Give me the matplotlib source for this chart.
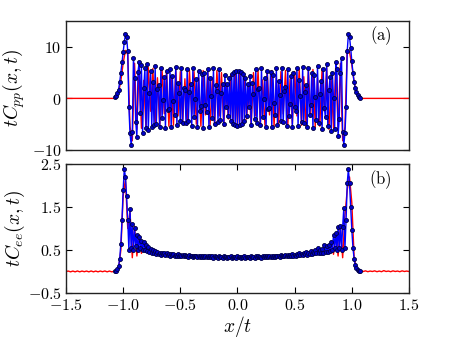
import numpy as np
import matplotlib
matplotlib.use("Agg")
import matplotlib.pyplot as plt
from matplotlib.ticker import FuncFormatter

plt.rcParams['mathtext.fontset'] = 'cm'
plt.rcParams['font.family'] = 'serif'

# lattice points x/t for the blue (marked) curves
x_blue = np.round(np.arange(-1.07, 1.0701, 0.01), 2)
# grid of the red curves
x_red = np.round(np.linspace(-1.5, 1.5, 151), 2)

# panel (a): t*C_pp, blue points
cpp_blue = [
    0.2, 0.5, 1.0, 1.7, 3.2, 5.0, 7.0, 9.0, 10.9, 12.4, 11.9, 9.2, -1.6, -6.8, -9.0, -6.6, 7.8,
    4.0, -4.5, -7.5, 5.2, 7.0, -2.8, 6.4, -6.8, 2.0, 5.8, -5.8, 6.6, -6.1, 1.0, 5.4, -5.6, 3.2,
    -5.2, 6.2, -5.0, 1.8, 2.6, -5.6, 5.8, -3.8, -0.4, 4.2, -5.8, 5.4, -2.2, -2.0, 5.6, -5.6,
    4.4, -0.6, -3.2, 6.0, -5.2, 3.0, 1.0, -4.4, 5.8, -4.8, 2.0, 1.6, -4.8, 5.6, -4.4, 1.2,
    2.8, -5.4, 5.8, -3.6, -0.2, 3.8, -5.6, 5.4, -2.4, -1.4, 4.8, -5.8, 5.0, -1.2, -2.6, 5.6,
    -5.6, 4.0, 0.4, -3.8, 5.8, -5.0, 2.6, 1.4, -4.6, 5.6, -4.2, 1.0, 2.8, -5.0, 4.6,
    -1.6, 2.7, -3.4, 4.0, -4.4, 4.7, -4.9, 5.1, -5.2, 5.3, -5.3, 5.3, -5.2, 5.1, -4.9, 4.7,
    -4.4, 4.0, -3.4, 2.7, -1.6,
    4.4, -5.2, 3.0, 0.8, -4.0, 5.6, -4.8, 1.8, 2.0, -5.2, 5.8, -3.6, -0.2, 4.0, -5.6, 5.4,
    -2.0, -1.8, 5.2, -5.6, 4.6, -0.8, -3.2, 5.8, -5.2, 3.4, 0.6, -4.4, 5.8, -4.6, 1.4, 2.2,
    -5.4, 5.6, -3.4, -1.0, 4.4, -5.6, 5.0, -1.6, -2.4, 5.8, -5.4, 3.6, 0.4, -4.6, 6.0, -4.8,
    1.2, 2.6, -5.6, 5.8, -3.2, -1.2, 5.0, -5.8, 4.6, 0.2, -4.2, 6.2, -4.8, 0.8, 3.4, -6.0,
    5.6, -1.8, -3.6, 6.6, -5.4, 1.6,
    4.2, -6.4, 5.0, 0.0, -6.0, 7.0, 5.6, -7.2, -4.0, 5.0, 7.8, -6.6, -9.0, -6.8, -1.6, 9.2,
    12.4, 11.9, 9.8, 7.2, 5.0, 3.2, 2.0, 1.2, 0.6, 0.3, 0.1,
]

# panel (a): red curve
cpp_red = [0.0] * 22 + [
    0.3, 1.2, 3.4, 6.8, 9.3, 8.5, -5.5, -8.2, 6.8, -6.0, 6.6, -5.8, 3.5, -6.0, 6.0, -2.5,
    5.8, -5.4, 4.0, -5.6, 5.6, -3.0, 5.4, -5.4, 4.2, -5.2, 5.6, -3.4, 5.2, -5.0, 3.8, -5.2,
    5.4, -3.0, 5.2, -5.0, 4.0, -5.4, 5.4, -3.2, 5.4, -5.2, 3.6, -5.2, 5.4, -3.4, 5.0, -5.4,
    3.0, -4.0, 4.6, -5.0, 5.2, -5.3, 5.2, -5.0, 4.6, -4.0, 3.0, -5.4, 5.0, -3.4, 5.4, -5.2,
    3.6, -5.2, 5.4, -3.2, 5.4, -5.4, 4.0, -5.0, 5.2, -3.0, 5.4, -5.2, 3.8, -5.0, 5.2, -3.4,
    5.6, -5.2, 4.2, -5.4, 5.4, -3.0, 5.6, -5.6, 4.0, -5.4, 5.8, -2.5, 6.0, -6.0, 3.5, -5.8,
    6.6, -6.0, 6.8, -8.2, -5.5, 9.5, 9.0, 6.5, 3.2, 1.1, 0.3,
] + [0.0] * 22

# panel (b): t*C_ee, blue points
cee_blue = [
    0.0, 0.02, 0.05, 0.12, 0.3, 0.65, 1.2, 1.9, 2.38, 2.2, 1.75, 1.2, 0.5, 1.45, 0.55, 1.1,
    0.5, 1.0, 0.6, 0.85, 0.5, 0.8, 0.55, 0.72, 0.5, 0.68, 0.5, 0.62, 0.48, 0.58, 0.46, 0.53,
    0.44, 0.5, 0.42, 0.47, 0.41, 0.45,
    0.40, 0.44, 0.39, 0.43, 0.40, 0.42, 0.38, 0.42, 0.39, 0.41, 0.37, 0.40, 0.38, 0.41, 0.37,
    0.39, 0.36, 0.40, 0.37, 0.38,
    0.35, 0.39, 0.36, 0.38, 0.35, 0.37, 0.34, 0.38, 0.35, 0.36, 0.34, 0.37, 0.35, 0.36, 0.33,
    0.37, 0.34, 0.36, 0.33, 0.35,
    0.34, 0.36, 0.33, 0.35, 0.33, 0.36, 0.34, 0.35, 0.32, 0.35, 0.33, 0.34, 0.32, 0.35, 0.33,
    0.34, 0.32, 0.35, 0.33, 0.34,
    0.32, 0.34, 0.33, 0.35, 0.32, 0.34, 0.33, 0.34, 0.32, 0.35, 0.33, 0.34, 0.32, 0.34, 0.33,
    0.35, 0.32, 0.34, 0.33, 0.34,
    0.32, 0.35, 0.33, 0.34, 0.32, 0.35, 0.33, 0.36, 0.33, 0.34, 0.32, 0.35, 0.34, 0.36, 0.33,
    0.35, 0.34, 0.36, 0.33, 0.35,
    0.34, 0.37, 0.34, 0.36, 0.35, 0.37, 0.34, 0.38, 0.35, 0.37, 0.36, 0.39, 0.35, 0.38, 0.36,
    0.39, 0.37, 0.40, 0.36, 0.39,
    0.37, 0.40, 0.38, 0.42, 0.38, 0.41, 0.39, 0.43, 0.40, 0.46, 0.39, 0.44, 0.41, 0.48, 0.40,
    0.45, 0.42, 0.50, 0.43,
    0.55, 0.42, 0.5, 0.44, 0.52, 0.44, 0.62, 0.45, 0.6, 0.46, 0.62, 0.48, 0.68, 0.5, 0.85,
    0.55, 0.9, 0.5, 1.04, 0.55, 1.05, 0.5, 1.04, 1.47, 0.54, 1.2, 2.05, 2.38, 2.05, 1.5, 0.97,
    0.55, 0.3, 0.15, 0.08, 0.04, 0.02, 0.0,
]

# panel (b): red curve
cee_red = [
    0.0, 0.01, -0.008, 0.01, -0.008, 0.012, -0.008, 0.01, -0.005, 0.01, -0.008, 0.012, -0.008,
    0.01, -0.008, 0.01, -0.005, 0.012, -0.008, 0.01, -0.008, 0.005,
    0.0, 0.06, 0.5, 1.75, 2.15, 1.0, 1.4, 0.32, 1.05, 0.36, 0.85, 0.42, 0.7, 0.45, 0.6, 0.44,
    0.52, 0.42, 0.47, 0.4, 0.44, 0.39, 0.43, 0.38, 0.42, 0.37, 0.4, 0.36, 0.39, 0.35, 0.38,
    0.35, 0.37, 0.34, 0.37, 0.34, 0.36, 0.33, 0.36, 0.33, 0.35, 0.33, 0.35, 0.32, 0.35, 0.32,
    0.34, 0.32, 0.34, 0.32, 0.34, 0.32, 0.34, 0.32, 0.34, 0.32, 0.34, 0.32, 0.34, 0.32, 0.35,
    0.32, 0.35, 0.33, 0.35, 0.33, 0.36, 0.33, 0.36, 0.34, 0.37, 0.34, 0.37, 0.35, 0.38, 0.35,
    0.39, 0.36, 0.4, 0.37, 0.42, 0.38, 0.43, 0.39, 0.46, 0.4, 0.5, 0.42, 0.48, 0.42, 0.52,
    0.43, 0.6, 0.44, 0.7, 0.4, 0.85, 0.36, 1.05, 0.32, 1.3, 1.9, 2.2, 1.6, 0.35, 0.06, 0.0,
    0.01, 0.0, 0.015, -0.005, 0.01, 0.0, 0.015, -0.005, 0.01, -0.005, 0.02, 0.0,
    0.01, -0.005, 0.015, 0.0, 0.01, -0.005, 0.015, 0.0, 0.01, 0.0,
]

fig = plt.figure(figsize=(4.57, 3.43), dpi=100)
ax1 = fig.add_axes([0.1444, 0.5627, 0.7505, 0.3761])
ax2 = fig.add_axes([0.1444, 0.1458, 0.7505, 0.3761])

mfmt = FuncFormatter(lambda v, p: '$%g$' % v)

for ax, yr, yb in [(ax1, cpp_red, cpp_blue), (ax2, cee_red, cee_blue)]:
    ax.plot(x_red, yr, color='r', lw=1.0)
    ax.plot(x_blue, yb, color='b', lw=1.0, marker='o', ms=2.9,
            mfc='#0000cc', mec='#000044', mew=0.6)
    ax.set_xlim(-1.5, 1.5)
    ax.tick_params(direction='in', length=4.5, width=0.8, top=True, right=True,
                   labelsize=11.5, pad=3)
    ax.yaxis.set_major_formatter(mfmt)
    for s in ax.spines.values():
        s.set_linewidth(1.0)
        s.set_color('#222222')

ax1.set_ylim(-10, 15)
ax1.set_yticks([-10, 0, 10])
ax1.set_xticks([])
ax1.set_ylabel(r'$tC_{pp}(x,t)$', fontsize=14)
ax1.yaxis.set_label_coords(-0.115, 0.48)
ax1.text(0.918, 0.885, r'$\mathrm{(a)}$', transform=ax1.transAxes,
         fontsize=12, ha='center', va='center')

ax2.set_ylim(-0.5, 2.5)
ax2.set_yticks([-0.5, 0.5, 1.5, 2.5])
ax2.set_xticks([-1.5, -1.0, -0.5, 0.0, 0.5, 1.0, 1.5])
ax2.xaxis.set_major_formatter(FuncFormatter(lambda v, p: '$%.1f$' % v))
ax2.set_ylabel(r'$tC_{ee}(x,t)$', fontsize=14)
ax2.yaxis.set_label_coords(-0.115, 0.5)
ax2.set_xlabel(r'$x/t$', fontsize=14)
ax2.xaxis.set_label_coords(0.5, -0.16)
ax2.text(0.915, 0.876, r'$\mathrm{(b)}$', transform=ax2.transAxes,
         fontsize=12, ha='center', va='center')

fig.savefig('out.png', dpi=100)
